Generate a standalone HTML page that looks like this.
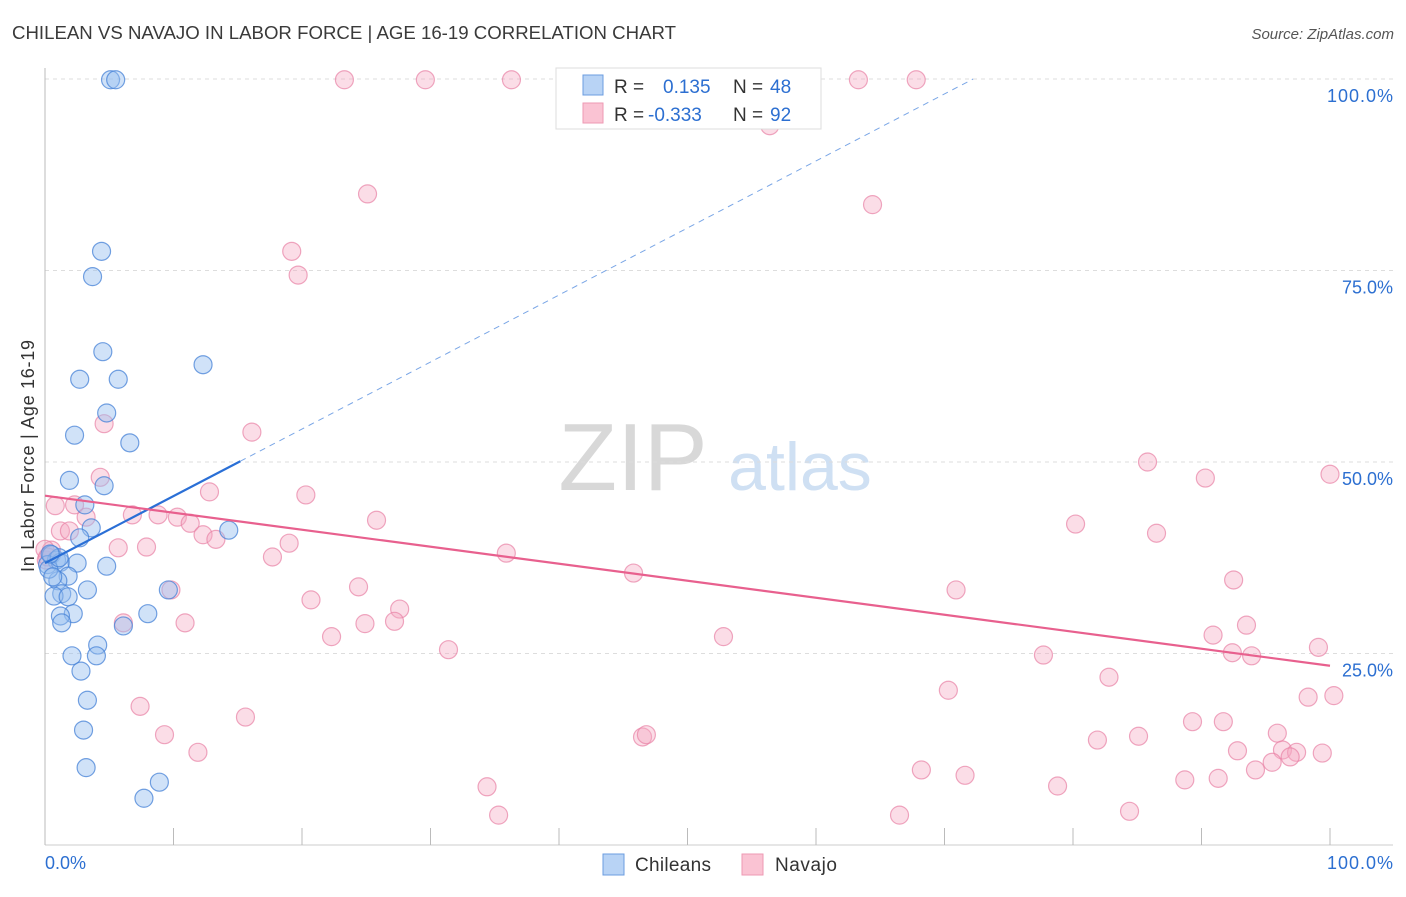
<!DOCTYPE html>
<html><head><meta charset="utf-8"><style>
body{margin:0;background:#fff;font-family:"Liberation Sans",sans-serif}
svg text{font-family:"Liberation Sans",sans-serif}
</style></head><body>
<svg id="chart" width="1406" height="892" viewBox="0 0 1406 892">
<text x="12" y="39" font-size="18" fill="#3a3a3a" textLength="664" lengthAdjust="spacingAndGlyphs">CHILEAN VS NAVAJO IN LABOR FORCE | AGE 16-19 CORRELATION CHART</text>
<text x="1394" y="39" font-size="15" fill="#555" font-style="italic" text-anchor="end">Source: ZipAtlas.com</text>
<g>
<text x="633" y="490" font-size="96" fill="#d8d8d8" font-family="Liberation Serif" text-anchor="middle">ZIP</text>
<text x="800" y="490" font-size="68" fill="#cfe0f3" text-anchor="middle">atlas</text>
</g>
<g id="grid"></g>
<g id="axes"></g>
<g id="marks"></g>
<g id="trends"></g>
<g>
<rect x="556" y="68" width="265" height="61" fill="#fff" stroke="#ddd"/>
<rect x="583" y="75" width="20" height="20" fill="#b8d3f5" stroke="#6b9ce0"/>
<rect x="583" y="103" width="20" height="20" fill="#fac3d3" stroke="#ee9ab3"/>
<text x="614" y="93" font-size="19" fill="#333">R = </text><text x="663" y="93" font-size="19" fill="#2c6fd1">0.135</text>
<text x="733" y="93" font-size="19" fill="#333">N = </text><text x="770" y="93" font-size="19" fill="#2c6fd1">48</text>
<text x="614" y="121" font-size="19" fill="#333">R = </text><text x="648" y="121" font-size="19" fill="#2c6fd1">-0.333</text>
<text x="733" y="121" font-size="19" fill="#333">N = </text><text x="770" y="121" font-size="19" fill="#2c6fd1">92</text>
</g>
<g>
<rect x="603" y="854" width="21" height="21" fill="#b8d3f5" stroke="#6b9ce0"/>
<text x="635" y="871" font-size="19" fill="#333" textLength="76">Chileans</text>
<rect x="742" y="854" width="21" height="21" fill="#fac3d3" stroke="#ee9ab3"/>
<text x="775" y="871" font-size="19" fill="#333" textLength="62">Navajo</text>
</g>
</svg>
<script>
const yTicks=[25,50,75,100];
const yTickLabels=["25.0%","50.0%","75.0%","100.0%"];
const xTicks=[0,10,20,30,40,50,60,70,80,90,100];
const chileanX=[5.1,5.5,4.4,3.7,4.5,2.7,5.7,12.3,4.8,2.3,6.6,1.9,4.6,3.1,14.3,3.6,2.7,0.5,0.9,0.2,1.2,2.5,4.8,1.8,1.0,1.3,0.7,1.8,3.3,9.6,2.2,1.2,1.3,8.0,4.1,6.1,4.0,2.1,2.8,3.3,3.0,3.2,8.9,7.7,0.3,0.6,1.1,0.4];
const chileanY=[99.9,99.9,77.5,74.2,64.4,60.8,60.8,62.7,56.4,53.5,52.5,47.6,46.9,44.4,41.1,41.4,40.1,37.9,37.2,36.6,36.9,36.8,36.4,35.1,34.5,32.8,32.5,32.4,33.3,33.3,30.2,29.9,29.0,30.2,26.1,28.6,24.7,24.7,22.7,18.9,15.0,10.1,8.2,6.1,36,35,37.5,38];
const navajoX=[23.3,29.6,36.3,63.3,67.8,56.4,25.1,64.4,19.2,19.7,4.6,16.1,4.3,100,85.8,90.3,12.8,20.3,0.8,2.3,6.8,8.8,10.3,11.3,3.2,25.8,80.2,86.5,1.2,1.9,12.3,13.3,5.7,19.0,7.9,0.5,0.1,17.7,35.9,45.8,92.5,24.4,9.8,70.9,20.7,27.6,6.1,10.9,27.2,24.9,22.3,52.8,90.9,93.5,31.4,77.7,92.4,93.9,99.1,82.8,70.3,98.3,100.3,7.4,15.6,89.3,91.7,81.9,9.3,85.1,46.5,46.8,11.9,95.9,92.8,96.3,97.4,96.9,99.4,95.5,68.2,71.6,94.2,91.3,88.7,78.8,34.4,35.3,66.5,84.4,0.0,0.2];
const navajoY=[99.9,99.9,99.9,99.9,99.9,93.9,85.0,83.6,77.5,74.4,55.0,53.9,48.0,48.4,50.0,47.9,46.1,45.7,44.3,44.4,43.1,43.1,42.8,42.0,42.8,42.4,41.9,40.7,41.0,41.0,40.5,39.9,38.8,39.4,38.9,38.5,37.2,37.6,38.1,35.5,34.6,33.7,33.3,33.3,32.0,30.8,29.0,29.0,29.2,28.9,27.2,27.2,27.4,28.7,25.5,24.8,25.1,24.7,25.8,21.9,20.2,19.3,19.5,18.1,16.7,16.1,16.1,13.7,14.4,14.2,14.1,14.4,12.1,14.6,12.3,12.4,12.1,11.5,12.0,10.8,9.8,9.1,9.8,8.7,8.5,7.7,7.6,3.9,3.9,4.4,38.6,37.6];
const chileanTrend=[36.8,0.875];   // intercept, slope
const navajoTrend=[45.6,-0.222];
const chileanSolidEnd=15.2;
const NS="http://www.w3.org/2000/svg";
const X=v=>45+v*12.85, Y=v=>845-v*7.66;
function mk(tag,attrs,parent){const e=document.createElementNS(NS,tag);for(const k in attrs)e.setAttribute(k,attrs[k]);parent.appendChild(e);return e;}
const grid=document.getElementById('grid'),axes=document.getElementById('axes'),marks=document.getElementById('marks'),trends=document.getElementById('trends');
yTicks.forEach((t,i)=>{
 const l=mk('line',{x1:45,x2:1393,y1:Y(t),y2:Y(t),stroke:'#ddd','stroke-dasharray':'4,4'},grid);
 
 
 const tx=mk('text',{x:1393,y:Y(t)+23,'font-size':18,fill:'#2c6fd1','text-anchor':'end'},axes);
 tx.textContent=yTickLabels[i];
 if(yTickLabels[i].length===6) tx.setAttribute('textLength','66');
 
 
});
const ax=mk('line',{x1:45,x2:45,y1:68,y2:845,stroke:'#bbb'},axes);


const bx=mk('line',{x1:45,x2:1393,y1:845,y2:845,stroke:'#ccc'},axes);


xTicks.forEach(t=>{
 const l=mk('line',{x1:X(t),x2:X(t),y1:828,y2:845,stroke:'#bbb'},axes);
 
 
});
const xl0=mk('text',{x:45,y:869,'font-size':18,fill:'#2c6fd1'},axes);xl0.textContent='0.0%';


const xl1=mk('text',{x:1393,y:869,'font-size':18,fill:'#2c6fd1','text-anchor':'end',textLength:'66'},axes);xl1.textContent='100.0%';


const yt=mk('text',{x:0,y:0,'font-size':18,fill:'#333','text-anchor':'middle',textLength:'232',transform:'translate(34,456) rotate(-90)'},axes);yt.textContent='In Labor Force | Age 16-19';


navajoX.forEach((x,i)=>{
 const c=mk('circle',{cx:X(x),cy:Y(navajoY[i]),r:9,fill:'rgba(245,170,195,0.4)',stroke:'rgba(232,130,165,0.7)','stroke-width':1.2},marks);
 
 
});
chileanX.forEach((x,i)=>{
 const c=mk('circle',{cx:X(x),cy:Y(chileanY[i]),r:9,fill:'rgba(150,190,240,0.45)',stroke:'rgba(70,130,215,0.75)','stroke-width':1.2},marks);
 
 
});
const cMax=chileanSolidEnd, cEnd=(100-chileanTrend[0])/chileanTrend[1];
const t1=mk('line',{x1:X(0),y1:Y(chileanTrend[0]),x2:X(cMax),y2:Y(chileanTrend[0]+chileanTrend[1]*cMax),stroke:'#2a6fd6','stroke-width':2.2},trends);


const t2=mk('line',{x1:X(cMax),y1:Y(chileanTrend[0]+chileanTrend[1]*cMax),x2:X(cEnd),y2:Y(100),stroke:'#7aa6e6','stroke-width':1,'stroke-dasharray':'6,5'},trends);


const t3=mk('line',{x1:X(0),y1:Y(navajoTrend[0]),x2:X(100),y2:Y(navajoTrend[0]+navajoTrend[1]*100),stroke:'#e8608e','stroke-width':2.2},trends);


</script>
</body></html>
